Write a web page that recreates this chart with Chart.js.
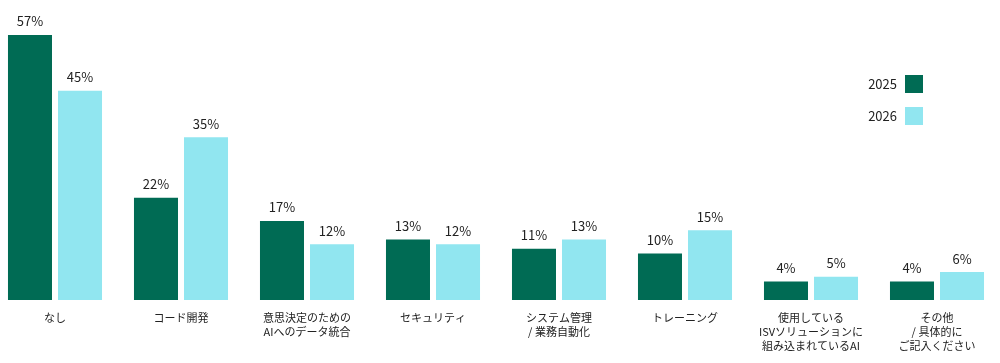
<!DOCTYPE html>
<html>
<head>
<meta charset="utf-8">
<script src="https://cdn.jsdelivr.net/npm/chart.js@4.4.1/dist/chart.umd.min.js"></script>
<style>
  html, body { margin: 0; padding: 0; background: #fff; overflow: hidden; }
  #wrap { position: absolute; left: -8px; top: 0; width: 1008px; height: 363px; }
</style>
</head>
<body>
<div id="wrap"><canvas id="chart" width="1008" height="363"></canvas></div>
<script>
const categories = [
  ["なし"],
  ["コード開発"],
  ["意思決定のための", "AIへのデータ統合"],
  ["セキュリティ"],
  ["システム管理", "/ 業務自動化"],
  ["トレーニング"],
  ["使用している", "ISVソリューションに", "組み込まれているAI"],
  ["その他", "/ 具体的に", "ご記入ください"]
];
const seriesNames = ["2025", "2026"];
const values2025 = [57, 22, 17, 13, 11, 10, 4, 4];
const values2026 = [45, 35, 12, 12, 13, 15, 5, 6];

const FONT = '"Noto Sans CJK JP", "Noto Sans", sans-serif';
const TEXT = "#222";

// value labels above each bar
const valueLabels = {
  id: "valueLabels",
  afterDatasetsDraw(chart) {
    const ctx = chart.ctx;
    ctx.save();
    ctx.font = "13px " + FONT;
    ctx.fillStyle = TEXT;
    ctx.textAlign = "center";
    ctx.textBaseline = "bottom";
    chart.data.datasets.forEach((ds, i) => {
      chart.getDatasetMeta(i).data.forEach((bar, j) => {
        ctx.fillText(ds.data[j] + "%", bar.x, bar.y - 7);
      });
    });
    ctx.restore();
  }
};

// legend: text on the left, box on the right
const sideLegend = {
  id: "sideLegend",
  afterDraw(chart) {
    const ctx = chart.ctx;
    ctx.save();
    ctx.font = "13px " + FONT;
    ctx.textAlign = "right";
    ctx.textBaseline = "middle";
    chart.data.datasets.forEach((ds, i) => {
      const y = 75 + i * 32;
      ctx.fillStyle = ds.backgroundColor;
      ctx.fillRect(913, y, 18, 18);
      ctx.fillStyle = TEXT;
      ctx.fillText(ds.label, 905, y + 9);
    });
    ctx.restore();
  }
};

new Chart(document.getElementById("chart"), {
  type: "bar",
  data: {
    labels: categories,
    datasets: [
      { label: seriesNames[0], data: values2025, backgroundColor: "#006B54" },
      { label: seriesNames[1], data: values2026, backgroundColor: "#91E6F0" }
    ]
  },
  options: {
    responsive: false,
    animation: false,
    devicePixelRatio: 1,
    layout: { padding: 0 },
    datasets: {
      bar: { categoryPercentage: 0.794, barPercentage: 0.88 }
    },
    plugins: {
      legend: { display: false },
      tooltip: { enabled: false }
    },
    scales: {
      x: {
        grid: { display: false, drawTicks: false },
        border: { display: false },
        ticks: {
          color: TEXT,
          font: { family: FONT, size: 11, lineHeight: 1.25 },
          padding: 11,
          maxRotation: 0,
          autoSkip: false
        },
        afterFit(scale) { scale.height = 63; }
      },
      y: {
        display: false,
        min: 0,
        max: 64.5
      }
    }
  },
  plugins: [valueLabels, sideLegend]
});
</script>
</body>
</html>
